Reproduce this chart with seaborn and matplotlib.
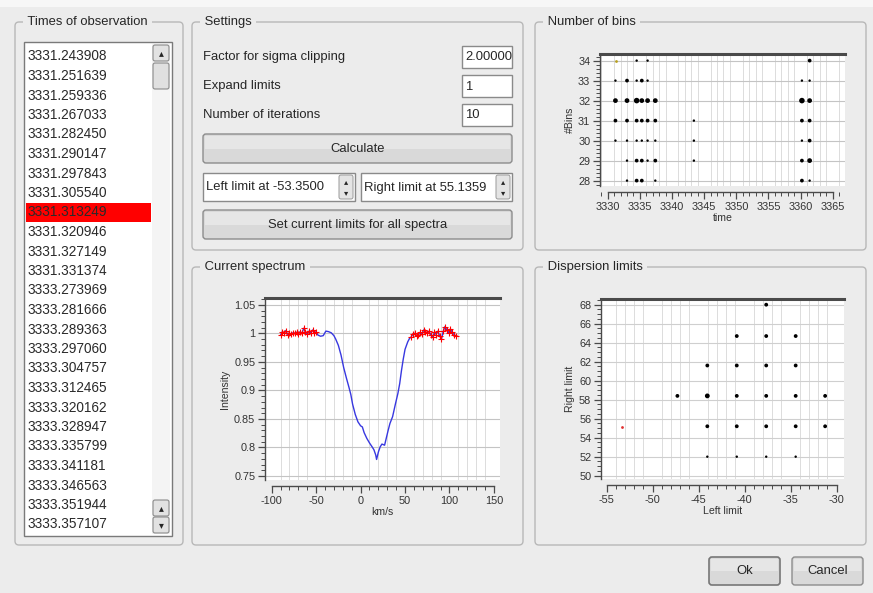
import numpy as np
import pandas as pd
import matplotlib
matplotlib.use("Agg")
import matplotlib.pyplot as plt
from matplotlib.patches import FancyBboxPatch, Rectangle
from matplotlib.ticker import MultipleLocator
import seaborn as sns

sns.set_theme(style="white")
plt.rcParams["font.family"] = ["Liberation Sans", "DejaVu Sans"]
plt.rcParams["axes.unicode_minus"] = False

# ---------------- data ----------------
obs_times = ["3331.243908", "3331.251639", "3331.259336", "3331.267033", "3331.282450",
             "3331.290147", "3331.297843", "3331.305540", "3331.313249", "3331.320946",
             "3331.327149", "3331.331374", "3333.273969", "3333.281666", "3333.289363",
             "3333.297060", "3333.304757", "3333.312465", "3333.320162", "3333.328947",
             "3333.335799", "3333.341181", "3333.346563", "3333.351944", "3333.357107"]
selected_index = 8

settings_labels = ["Factor for sigma clipping", "Expand limits", "Number of iterations"]
settings_values = ["2.00000", "1", "10"]
left_limit = -53.3500
right_limit = 55.1359

# Number of bins panel
bin_times = ([3331.2] * 4 + [3333.0] * 6 + [3334.5] * 7 + [3335.3] * 6 + [3336.2] * 6
             + [3337.4] * 5 + [3343.4] * 3 + [3360.2] * 6 + [3361.4] * 7)
bin_counts = ([33, 32, 31, 30] + [33, 32, 31, 30, 29, 28] + [34, 33, 32, 31, 30, 29, 28]
              + [33, 32, 31, 30, 29, 28] + [34, 33, 32, 31, 30, 29] + [32, 31, 30, 29, 28]
              + [31, 30, 29] + [33, 32, 31, 30, 29, 28] + [34, 33, 32, 31, 30, 29, 28])
bin_weight = ([1, 3, 2, 1] + [2, 3, 2, 1, 1, 1] + [1, 1, 4, 2, 1, 2, 2] + [2, 3, 2, 1, 2, 2]
              + [1, 1, 3, 2, 1, 1] + [3, 2, 1, 2, 1] + [1, 1, 1] + [1, 4, 2, 1, 2, 2]
              + [2, 1, 3, 2, 2, 3, 1])
current_time = [3331.24]
current_bins = [34]

# Current spectrum
vel = [-90, -88, -86, -84, -82, -80, -78, -76, -74, -72, -70, -68, -66, -64, -62, -60, -58,
       -56, -54, -52, -50,
       -48, -45, -42, -39, -36, -33, -30, -28, -25, -22, -19, -16, -13, -11, -9, -6, -3, 0,
       2, 4, 7, 10, 13, 15, 17, 18, 20, 22, 24, 27, 29, 31, 33, 36, 39, 42, 44, 46, 48, 50,
       53, 55,
       57, 59, 61, 63, 65, 67, 69, 71, 73, 75, 77, 79, 81, 83, 85, 87, 89, 91, 93, 95, 97,
       99, 101, 103, 105, 107]
flux = [0.997, 1.003, 1.000, 1.005, 0.998, 1.000, 0.999, 1.001, 1.000, 1.002, 0.999, 1.003,
        1.000, 1.009, 1.002, 0.999, 1.004, 1.000, 1.006, 1.001, 1.003,
        0.997, 0.995, 0.996, 1.004, 1.003, 1.001, 0.996, 0.990, 0.979, 0.962, 0.940, 0.922,
        0.905, 0.893, 0.876, 0.858, 0.845, 0.838, 0.836, 0.826, 0.816, 0.808, 0.801, 0.796,
        0.787, 0.779, 0.792, 0.801, 0.806, 0.804, 0.817, 0.830, 0.842, 0.854, 0.875, 0.895,
        0.912, 0.935, 0.955, 0.972, 0.985, 0.991,
        0.994, 0.999, 1.000, 0.996, 0.998, 1.002, 0.999, 1.006, 1.003, 1.000, 1.004, 0.997,
        0.993, 1.002, 0.998, 1.004, 0.995, 0.990, 1.004, 1.012, 1.006, 1.001, 1.008, 1.002,
        0.998, 0.996]
cont_vel = [v for v in vel if v <= -50 or v >= 57]
cont_flux = [f for v, f in zip(vel, flux) if v <= -50 or v >= 57]

# Dispersion limits
disp_left = [-47.3, -44.05, -44.05, -44.05, -44.05, -40.85, -40.85, -40.85, -40.85, -40.85,
             -37.65, -37.65, -37.65, -37.65, -37.65, -37.65, -34.45, -34.45, -34.45, -34.45,
             -34.45, -31.25, -31.25]
disp_right = [58.4, 61.6, 58.4, 55.2, 52.0, 64.7, 61.6, 58.4, 55.2, 52.0, 68.0, 64.7, 61.6,
              58.4, 55.2, 52.0, 64.7, 61.6, 58.4, 55.2, 52.0, 58.4, 55.2]
disp_weight = [2, 2, 3, 2, 1, 2, 2, 2, 2, 1, 2, 2, 2, 2, 2, 1, 2, 2, 2, 2, 1, 2, 2]

# ---------------- figure / GUI ----------------
W, H = 873, 593
BG = "#ececec"
fig = plt.figure(figsize=(W / 100, H / 100), dpi=100)
fig.patch.set_facecolor(BG)

g = fig.add_axes([0, 0, 1, 1], zorder=0)
g.set_xlim(0, W)
g.set_ylim(H, 0)
g.axis("off")

GUI_FS = 9.4
TXT = "#262626"


def rbox(x0, y0, x1, y1, fc="none", ec="#bcbcbc", lw=1.0, r=3, z=1):
    g.add_patch(FancyBboxPatch((x0, y0), x1 - x0, y1 - y0,
                               boxstyle=f"round,pad=0,rounding_size={r}",
                               fc=fc, ec=ec, lw=lw, zorder=z))


def group(x0, y0, x1, y1, title):
    rbox(x0, y0, x1, y1, ec="#b8b8b8", lw=1.0, r=4)
    g.text(x0 + 9, y0, " " + title + " ", fontsize=GUI_FS, va="center", ha="left",
           color=TXT, zorder=3,
           bbox=dict(fc=BG, ec="none", pad=0.5))


def button(x0, y0, x1, y1, label, ec="#8c8c8c", lw=1.0):
    rbox(x0, y0, x1, y1, fc="#d9d9d9", ec=ec, lw=lw, r=3, z=2)
    g.add_patch(Rectangle((x0 + 2, y0 + 2), x1 - x0 - 4, (y1 - y0) / 2 - 2,
                          fc="#e6e6e6", ec="none", zorder=2.1))
    g.text((x0 + x1) / 2, (y0 + y1) / 2 + 0.5, label, fontsize=GUI_FS, ha="center",
           va="center", color=TXT, zorder=3)


def entry(x0, y0, x1, y1, txt):
    g.add_patch(Rectangle((x0, y0), x1 - x0, y1 - y0, fc="white", ec="#8a8a8a", lw=1.0,
                          zorder=2))
    g.text(x0 + 3, (y0 + y1) / 2 + 0.5, txt, fontsize=GUI_FS, ha="left", va="center",
           color=TXT, zorder=3, clip_on=True)


# top strip
g.add_patch(Rectangle((0, 0), W, 7, fc="#f7f7f7", ec="none", zorder=0.5))

# group boxes
group(15, 22, 183, 545, "Times of observation")
group(192, 22, 523, 250, "Settings")
group(535, 22, 866, 250, "Number of bins")
group(192, 267, 523, 545, "Current spectrum")
group(535, 267, 866, 545, "Dispersion limits")

# list box
g.add_patch(Rectangle((24, 42), 148, 494, fc="white", ec="#7a7a7a", lw=1.0, zorder=2))
for i, t in enumerate(obs_times):
    y = 56 + 19.5 * i
    if i == selected_index:
        g.add_patch(Rectangle((26, y - 9.5), 125, 19, fc="#ff0000", ec="none", zorder=2.5))
    g.text(28, y + 0.5, t, fontsize=9.8, ha="left", va="center",
           color="#2a2a2a", zorder=3)
# scrollbar
g.add_patch(Rectangle((152, 44), 18, 490, fc="#f4f4f4", ec="none", zorder=2.6))
for (y0, y1) in [(45, 61), (500, 516), (517, 533)]:
    rbox(153, y0, 169, y1, fc="#e2e2e2", ec="#8a8a8a", lw=0.8, r=2, z=2.7)
rbox(153, 63, 169, 89, fc="#e0e0e0", ec="#8a8a8a", lw=0.8, r=2, z=2.7)
g.text(161, 53.5, "\u25b4", fontsize=7, family=["DejaVu Sans"], ha="center", va="center",
       zorder=3)
g.text(161, 508, "\u25b4", fontsize=7, family=["DejaVu Sans"], ha="center", va="center",
       zorder=3)
g.text(161, 525, "\u25be", fontsize=7, family=["DejaVu Sans"], ha="center", va="center",
       zorder=3)

# settings
for lab, val, y0 in zip(settings_labels, settings_values, [46, 75, 104]):
    g.text(203, y0 + 11, lab, fontsize=GUI_FS, ha="left", va="center", color=TXT,
           zorder=3)
    entry(462, y0, 512, y0 + 22, val)
button(203, 134, 512, 163, "Calculate")
for (x0, x1, txt) in [(203, 355, f"Left limit at {left_limit:.4f}"),
                      (361, 512, f"Right limit at {right_limit:.4f}")]:
    g.add_patch(Rectangle((x0, 173), x1 - x0, 28, fc="white", ec="#8a8a8a", lw=1.0,
                          zorder=2))
    g.text(x0 + 3, 187.5, txt, fontsize=GUI_FS, ha="left", va="center", color=TXT,
           zorder=3)
    rbox(x1 - 16, 175, x1 - 2, 199, fc="#e4e4e4", ec="#9a9a9a", lw=0.7, r=2, z=2.5)
    g.text(x1 - 9, 181.5, "\u25b4", fontsize=6, family=["DejaVu Sans"], ha="center",
           va="center", zorder=3)
    g.text(x1 - 9, 193, "\u25be", fontsize=6, family=["DejaVu Sans"], ha="center",
           va="center", zorder=3)
button(203, 210, 512, 239, "Set current limits for all spectra")

# bottom buttons
button(709, 557, 780, 585, "Ok", ec="#777777", lw=1.2)
button(792, 557, 863, 585, "Cancel")

TICK_FS = 7.8
LAB_FS = 7.6


# ---------------- plot axes ----------------
def add_plot(l, r, t, b):
    ax = fig.add_axes([l / W, 1 - b / H, (r - l) / W, (b - t) / H], zorder=2)
    ax.set_facecolor("white")
    ax.spines["right"].set_visible(False)
    ax.spines["top"].set_color("#4a4a4a")
    ax.spines["top"].set_linewidth(2.2)
    ax.spines["left"].set_color("#4a4a4a")
    ax.spines["left"].set_linewidth(1.0)
    ax.spines["bottom"].set_color("#4a4a4a")
    ax.spines["bottom"].set_linewidth(1.0)
    ax.spines["bottom"].set_position(("outward", 4.5))
    ax.tick_params(which="major", direction="out", length=5, width=0.9, colors="#4a4a4a",
                   labelsize=TICK_FS, labelcolor="#333333", pad=2,
                   bottom=True, left=True)
    ax.tick_params(which="minor", direction="out", length=3, width=0.7, colors="#4a4a4a",
                   bottom=True, left=True)
    return ax


def finish(ax, xlo, xhi):
    ax.spines["bottom"].set_bounds(xlo, xhi)


# Number of bins
ax1 = add_plot(600, 845, 54, 186)
df_bins = pd.DataFrame({"time": bin_times, "bins": bin_counts, "n": bin_weight})
sns.scatterplot(data=df_bins, x="time", y="bins", size="n", sizes=(3, 16), color="black",
                linewidth=0, legend=False, ax=ax1, zorder=3)
sns.scatterplot(x=current_time, y=current_bins, color="#b8a020", s=4, linewidth=0,
                legend=False, ax=ax1, zorder=3)
ax1.set_xlim(3328.8, 3366.9)
ax1.set_ylim(27.73, 34.33)
ax1.xaxis.set_major_locator(MultipleLocator(5))
ax1.xaxis.set_minor_locator(MultipleLocator(1))
ax1.yaxis.set_major_locator(MultipleLocator(1))
ax1.yaxis.set_minor_locator(MultipleLocator(0.2))
ax1.grid(which="minor", axis="x", color="#dcdcdc", lw=0.7)
ax1.grid(which="major", axis="y", color="#c4c4c4", lw=0.8)
ax1.set_axisbelow(True)
ax1.set_xlabel("time", fontsize=LAB_FS, labelpad=1, color="#333333")
ax1.set_ylabel("#Bins", fontsize=LAB_FS, labelpad=2, color="#333333")
finish(ax1, 3330, 3365)

# Current spectrum
ax2 = add_plot(265, 500, 298, 480)
sns.lineplot(x=vel, y=flux, color="#3838e0", lw=1.0, sort=False, estimator=None, ax=ax2,
             zorder=3)
sns.scatterplot(x=cont_vel, y=cont_flux, marker="+", color="red", s=16, linewidth=0.8,
                legend=False, ax=ax2, zorder=4)
ax2.set_xlim(-107.5, 156.8)
ax2.set_ylim(0.743, 1.062)
ax2.xaxis.set_major_locator(MultipleLocator(50))
ax2.xaxis.set_minor_locator(MultipleLocator(10))
ax2.yaxis.set_major_locator(MultipleLocator(0.05))
ax2.yaxis.set_minor_locator(MultipleLocator(0.01))
ax2.yaxis.set_major_formatter(plt.FuncFormatter(lambda v, p: f"{v:.2f}".rstrip("0").rstrip(".")))
ax2.grid(which="minor", axis="x", color="#dcdcdc", lw=0.7)
ax2.grid(which="major", axis="y", color="#c4c4c4", lw=0.8)
ax2.set_axisbelow(True)
ax2.set_xlabel("km/s", fontsize=LAB_FS, labelpad=1, color="#333333")
ax2.set_ylabel("Intensity", fontsize=LAB_FS, labelpad=3, color="#333333")
finish(ax2, -100, 150)

# Dispersion limits
ax3 = add_plot(601, 844, 299, 479)
df_disp = pd.DataFrame({"left": disp_left, "right": disp_right, "n": disp_weight})
sns.scatterplot(data=df_disp, x="left", y="right", size="n", sizes=(3, 12), color="black",
                linewidth=0, legend=False, ax=ax3, zorder=3)
sns.scatterplot(x=[left_limit], y=[right_limit], color="#e03030", s=4, linewidth=0,
                legend=False, ax=ax3, zorder=3)
ax3.set_xlim(-55.6, -29.2)
ax3.set_ylim(49.65, 68.6)
ax3.xaxis.set_major_locator(MultipleLocator(5))
ax3.xaxis.set_minor_locator(MultipleLocator(1))
ax3.yaxis.set_major_locator(MultipleLocator(2))
ax3.yaxis.set_minor_locator(MultipleLocator(0.5))
ax3.grid(which="minor", axis="x", color="#dcdcdc", lw=0.7)
ax3.grid(which="major", axis="y", color="#cfcfcf", lw=0.8)
ax3.set_axisbelow(True)
ax3.set_xlabel("Left limit", fontsize=LAB_FS, labelpad=1, color="#333333")
ax3.set_ylabel("Right limit", fontsize=LAB_FS, labelpad=3, color="#333333")
finish(ax3, -55, -30)

fig.savefig("out.png", dpi=100, facecolor=fig.get_facecolor())
